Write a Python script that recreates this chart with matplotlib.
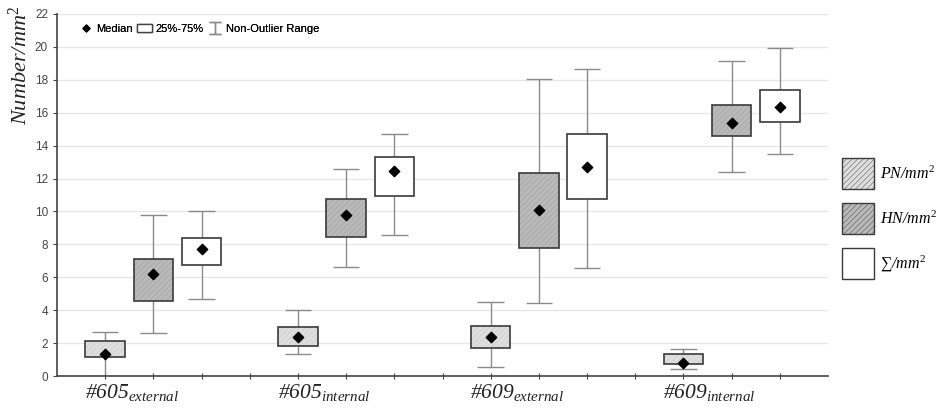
import numpy as np
import matplotlib.pyplot as plt
from matplotlib.patches import Patch
from matplotlib.lines import Line2D
from matplotlib.path import Path

# ======================================================
# DATA
# ======================================================
groups = ["#605", "#605", "#609", "#609"]
subs = ["external", "internal", "external", "internal"]
series = ["PN", "HN", "SUM"]

# per series: one value per group
PN_med = [1.35, 2.4, 2.4, 0.8]
PN_q1 = [1.18, 1.8, 1.7, 0.72]
PN_q3 = [2.14, 3.0, 3.06, 1.32]
PN_lo = [0.0, 1.36, 0.57, 0.41]
PN_hi = [2.65, 4.04, 4.52, 1.64]

HN_med = [6.22, 9.76, 10.08, 15.38]
HN_q1 = [4.54, 8.47, 7.78, 14.58]
HN_q3 = [7.12, 10.78, 12.34, 16.49]
HN_lo = [2.6, 6.63, 4.46, 12.4]
HN_hi = [9.8, 12.56, 18.07, 19.12]

SUM_med = [7.7, 12.48, 12.68, 16.37]
SUM_q1 = [6.75, 10.94, 10.77, 15.44]
SUM_q3 = [8.37, 13.33, 14.69, 17.4]
SUM_lo = [4.66, 8.57, 6.57, 13.5]
SUM_hi = [10.05, 14.71, 18.66, 19.96]

legend_labels = ["PN/mm$^{2}$", "HN/mm$^{2}$", "\u2211/mm$^{2}$"]

# ======================================================
# STYLE
# ======================================================
plt.rcParams["font.family"] = ["Liberation Sans", "DejaVu Sans"]
plt.rcParams["mathtext.fontset"] = "custom"
plt.rcParams["mathtext.rm"] = "Liberation Serif"
plt.rcParams["mathtext.it"] = "Liberation Serif:italic"
plt.rcParams["mathtext.bf"] = "Liberation Serif:bold"
plt.rcParams["hatch.linewidth"] = 0.3

serif_it = dict(family=["Liberation Serif", "DejaVu Serif"], style="italic")

fills = ["#dedede", "#b9b9b9", "white"]
hatch_cols = ["#c4c4c4", "#999999", "white"]
hatches = ["//////", "//////", None]
edge = "#3a3a3a"
whisk = "#8a8a8a"

stats = {
    "PN": (PN_med, PN_q1, PN_q3, PN_lo, PN_hi),
    "HN": (HN_med, HN_q1, HN_q3, HN_lo, HN_hi),
    "SUM": (SUM_med, SUM_q1, SUM_q3, SUM_lo, SUM_hi),
}

fig = plt.figure(figsize=(9.42, 4.08), dpi=100)
ax = fig.add_axes([0.0605, 0.0784, 0.8185, 0.8873])

bw = 0.82
cw = 0.55
for j, s in enumerate(series):
    med, q1, q3, lo, hi = (np.array(v) for v in stats[s])
    x = np.arange(len(groups)) * 4 + 1 + j
    # whiskers
    ax.vlines(x, lo, q1, color=whisk, lw=1.0, zorder=2)
    ax.vlines(x, q3, hi, color=whisk, lw=1.0, zorder=2)
    ax.hlines(lo, x - cw / 2, x + cw / 2, color=whisk, lw=1.0, zorder=2)
    ax.hlines(hi, x - cw / 2, x + cw / 2, color=whisk, lw=1.0, zorder=2)
    # box fill with fine hatch
    ax.bar(x, q3 - q1, bottom=q1, width=bw, color=fills[j],
           hatch=hatches[j], edgecolor=hatch_cols[j], linewidth=0, zorder=3)
    ax.bar(x, q3 - q1, bottom=q1, width=bw, fill=False,
           edgecolor=edge, linewidth=1.2, zorder=4)
    # median
    ax.scatter(x, med, marker="D", s=28, color="black", zorder=5)

ax.set_xlim(0, 16)
ax.set_ylim(0, 22)
ax.set_yticks(np.arange(0, 23, 2))
ax.set_xticks(np.arange(1, 16))
ax.set_xticklabels([])
ax.grid(axis="y", color="#e6e6e6", lw=1.0, zorder=0)
ax.set_axisbelow(True)
for sp in ["top", "right"]:
    ax.spines[sp].set_visible(False)
for sp in ["left", "bottom"]:
    ax.spines[sp].set_color("#444444")
    ax.spines[sp].set_linewidth(1.2)
ax.tick_params(axis="y", labelsize=8.5, colors="#444444", length=3)
ax.tick_params(axis="x", length=4, direction="inout", colors="#444444")

for i, (g, sb) in enumerate(zip(groups, subs)):
    ax.text(i * 4 + 1 - 0.42, -0.045, g + "$_{%s}$" % sb,
            transform=ax.get_xaxis_transform(), ha="left", va="center",
            fontsize=15.5, color="#222222", **serif_it)

fig.text(0.021, 0.84, "Number/mm$^{2}$", rotation=90, ha="center",
         va="center", fontsize=16, color="#222222", **serif_it)

# top legend
ibeam = Path([(-1, 1), (1, 1), (0, 1), (0, -1), (-1, -1), (1, -1)],
             [Path.MOVETO, Path.LINETO, Path.MOVETO, Path.LINETO,
              Path.MOVETO, Path.LINETO])
top_handles = [
    Line2D([], [], marker="D", ls="", color="black", ms=3.5),
    Patch(facecolor="white", edgecolor="#444444", lw=1.0),
    Line2D([], [], marker=ibeam, ls="", color=whisk, ms=9, mew=1.0),
]
leg1 = ax.legend(top_handles, ["Median", "25%-75%", "Non-Outlier Range"],
                 loc="upper left", bbox_to_anchor=(0.018, 0.995), ncol=3,
                 frameon=False, fontsize=8.0, handlelength=1.3,
                 handletextpad=0.3, columnspacing=0.4, borderaxespad=0.3)
ax.add_artist(leg1)

# right legend
right_handles = [Patch(facecolor=fills[j], hatch=hatches[j],
                       edgecolor=edge, lw=1.0) for j in range(3)]
fig.legend(right_handles, legend_labels, loc="upper left",
           bbox_to_anchor=(0.882, 0.64), frameon=False,
           handlelength=2.0, handleheight=2.65, labelspacing=0.85,
           handletextpad=0.4, borderpad=0.2,
           prop=dict(size=11.5, **serif_it))

fig.savefig("out.png", dpi=100)
